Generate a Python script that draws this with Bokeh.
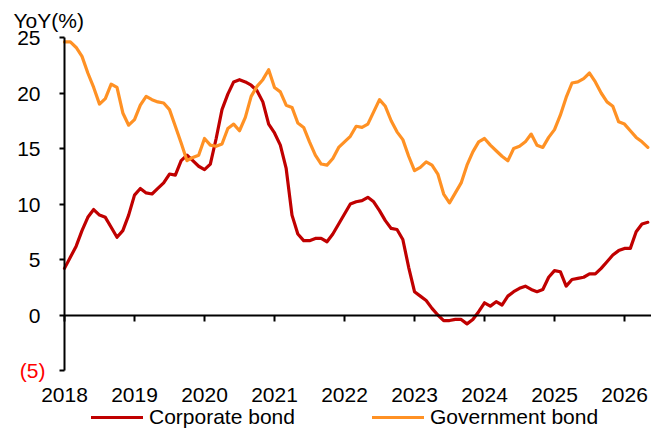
from bokeh.plotting import figure
from bokeh.models import (Range1d, FixedTicker, LinearAxis, Label, Legend, LegendItem)
from bokeh.embed import file_html
from bokeh.resources import INLINE

# ---- data (monthly, Jan 2018 .. May 2026) ----
start_year = 2018
corporate = [
    4.2, 5.2, 6.2, 7.6, 8.8, 9.5, 9.0, 8.8, 7.9, 7.0, 7.6, 9.0,
    10.8, 11.4, 11.0, 10.9, 11.4, 11.9, 12.7, 12.6, 13.9, 14.4, 13.9, 13.4,
    13.1, 13.6, 15.9, 18.5, 19.9, 21.0, 21.2, 21.0, 20.7, 20.2, 19.2, 17.2,
    16.4, 15.3, 13.2, 9.0, 7.3, 6.7, 6.7, 6.9, 6.9, 6.6, 7.3, 8.2,
    9.1, 10.0, 10.2, 10.3, 10.6, 10.2, 9.4, 8.5, 7.8, 7.7, 6.8, 4.3,
    2.1, 1.7, 1.3, 0.6, 0.0, -0.5, -0.5, -0.4, -0.4, -0.8, -0.4, 0.3,
    1.1, 0.8, 1.2, 0.9, 1.7, 2.1, 2.4, 2.6, 2.3, 2.1, 2.3, 3.4,
    4.0, 3.9, 2.6, 3.2, 3.3, 3.4, 3.7, 3.7, 4.2, 4.8, 5.4, 5.8,
    6.0, 6.0, 7.5, 8.2, 8.35,
]
government = [
    24.6, 24.6, 24.1, 23.3, 21.8, 20.5, 19.0, 19.5, 20.8, 20.5, 18.2, 17.1,
    17.6, 18.9, 19.7, 19.4, 19.2, 19.1, 18.5, 17.0, 15.5, 13.9, 14.2, 14.4,
    15.9, 15.3, 15.2, 15.4, 16.8, 17.2, 16.6, 17.8, 19.7, 20.6, 21.2, 22.1,
    20.5, 20.1, 18.9, 18.7, 17.3, 16.9, 15.6, 14.4, 13.6, 13.5, 14.1, 15.1,
    15.6, 16.1, 17.0, 16.9, 17.2, 18.3, 19.4, 18.8, 17.5, 16.5, 15.8, 14.3,
    13.0, 13.3, 13.8, 13.5, 12.7, 10.9, 10.1, 11.0, 11.9, 13.5, 14.7, 15.6,
    15.9, 15.3, 14.8, 14.3, 13.9, 15.0, 15.2, 15.6, 16.3, 15.3, 15.1, 16.0,
    16.7, 18.0, 19.6, 20.9, 21.0, 21.3, 21.8, 21.0, 20.0, 19.2, 18.8, 17.4,
    17.2, 16.6, 16.0, 15.6, 15.1,
]
year_ticks = [2018, 2019, 2020, 2021, 2022, 2023, 2024, 2025, 2026]
y_ticks = [-5, 0, 5, 10, 15, 20, 25]
series_names = ["Corporate bond", "Government bond"]
y_title = "YoY(%)"

x = [start_year + i / 12 for i in range(len(corporate))]

# ---- layout (pixel geometry) ----
W, H = 651, 429
PX_X = 70.0          # px per year
X0_PX = 64           # px position of first year
PX_Y = 11.1          # px per unit
YTOP_PX = 37         # px position of y = 25
Y_MIN, Y_MAX = -5, 25
X_MIN = 2018
x_start = X_MIN - X0_PX / PX_X
x_end = x_start + W / PX_X
y_end = Y_MAX + YTOP_PX / PX_Y
y_start = y_end - H / PX_Y

FONT = "Liberation Sans"
FS = "21px"
RED = "#C00000"
ORANGE = "#FF9124"

p = figure(width=W, height=H, output_backend="svg", toolbar_location=None,
           x_axis_type=None, y_axis_type=None,
           x_range=Range1d(x_start, x_end), y_range=Range1d(y_start, y_end),
           min_border=0, min_border_left=0, min_border_right=0,
           min_border_top=0, min_border_bottom=0)
p.outline_line_color = None
p.xgrid.visible = False
p.ygrid.visible = False
p.background_fill_color = "white"
p.border_fill_color = "white"

# y axis (drawn at x = 2018)
yax = LinearAxis(ticker=FixedTicker(ticks=y_ticks), fixed_location=X_MIN,
                 bounds=(Y_MIN, Y_MAX), major_label_overrides={-5: " "})
yax.axis_line_width = 2
yax.axis_line_color = "black"
yax.major_tick_line_width = 2
yax.major_tick_out = 5
yax.major_tick_in = 0
yax.minor_tick_out = 0
yax.minor_tick_in = 0
yax.major_label_standoff = 19
yax.major_label_text_font = FONT
yax.major_label_text_font_size = FS
yax.major_label_text_color = "black"
p.add_layout(yax, "left")

# x labels (drawn below y = -5)
xax = LinearAxis(ticker=FixedTicker(ticks=year_ticks), fixed_location=Y_MIN)
xax.axis_line_color = None
xax.major_tick_line_color = None
xax.major_tick_out = 0
xax.major_tick_in = 0
xax.minor_tick_out = 0
xax.minor_tick_in = 0
xax.major_label_standoff = 17
xax.major_label_text_font = FONT
xax.major_label_text_font_size = FS
xax.major_label_text_color = "black"
p.add_layout(xax, "below")

# zero line with year ticks
zax = LinearAxis(ticker=FixedTicker(ticks=year_ticks), fixed_location=0,
                 bounds=(X_MIN, x[-1] + 0.08))
zax.axis_line_width = 2
zax.axis_line_color = "black"
zax.major_tick_line_width = 2
zax.major_tick_out = 6
zax.major_tick_in = 0
zax.minor_tick_out = 0
zax.minor_tick_in = 0
zax.major_label_text_font_size = "0px"
zax.major_label_text_alpha = 0
p.add_layout(zax, "below")

r1 = p.line(x, corporate, line_color=RED, line_width=3.2, line_join="round", line_cap="round")
r2 = p.line(x, government, line_color=ORANGE, line_width=3.2, line_join="round", line_cap="round")

# title & red negative label
p.add_layout(Label(x=X_MIN, y=Y_MAX + 29 / PX_Y, x_offset=-51, text=y_title, text_font=FONT,
                   text_font_size=FS, text_color="black",
                   text_align="left", text_baseline="top"))
p.add_layout(Label(x=X_MIN, y=Y_MIN, x_offset=-19, text="(5)", text_font=FONT,
                   text_font_size=FS, text_color="#FF0000",
                   text_align="right", text_baseline="middle"))

for r, name, lx in [(r1, series_names[0], 91), (r2, series_names[1], 372)]:
    lg = Legend(items=[LegendItem(label=name, renderers=[r])], location=(lx, 0),
                orientation="horizontal", border_line_color=None,
                background_fill_alpha=0, padding=0, margin=0,
                glyph_width=52, glyph_height=18, label_height=18,
                label_standoff=6, label_text_font=FONT, label_text_font_size=FS,
                label_text_color="black")
    p.add_layout(lg, "center")

open("out.html", "w").write(file_html(p, INLINE))
